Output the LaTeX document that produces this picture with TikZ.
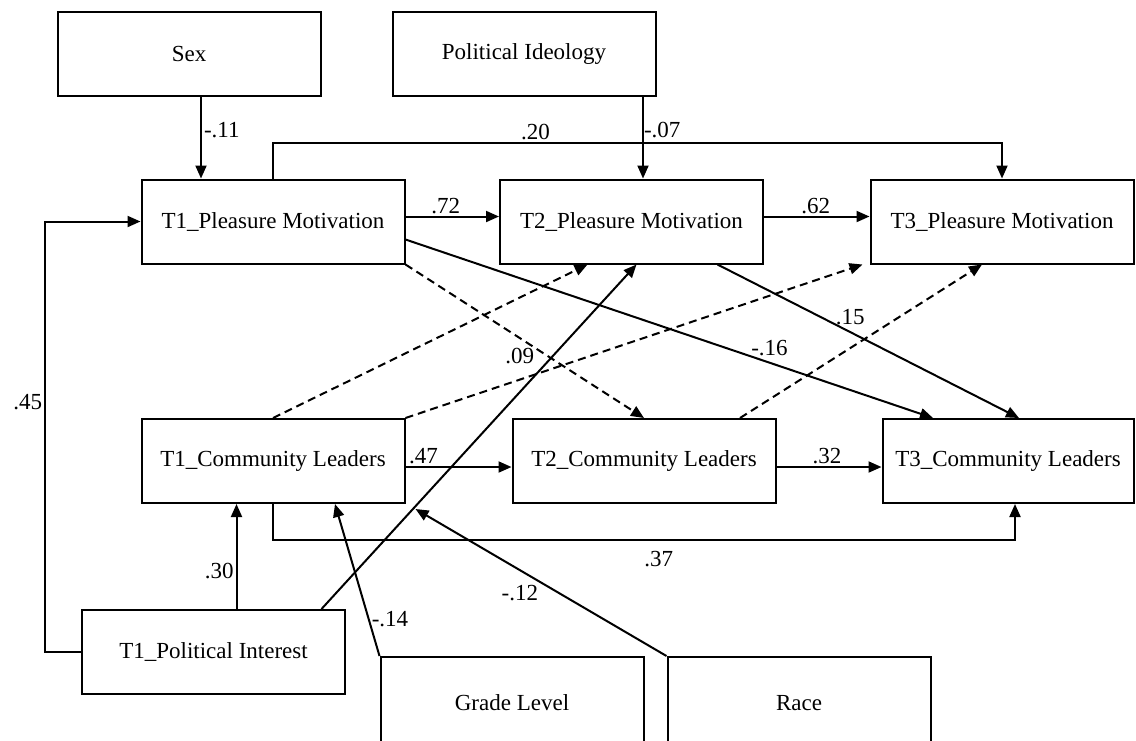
\documentclass[tikz,border=0pt]{standalone}
\usepackage{fontspec}
\setmainfont{Liberation Serif}
\usetikzlibrary{arrows.meta}

\begin{document}
\begin{tikzpicture}[x=1pt,y=-1pt,line join=miter,>={Triangle[length=13pt,width=11pt]},
    box/.style={draw,line width=2pt,minimum width=263pt,minimum height=84pt,inner sep=0pt,font=\fontsize{23}{27}\selectfont},
    link/.style={line width=2pt,->},
    dlink/.style={link,dash pattern=on 8pt off 5pt},
    lbl/.style={font=\fontsize{23}{27}\selectfont,inner sep=2pt}]
  \path[use as bounding box] (0,0) rectangle (1136,740);
  \clip (0,0) rectangle (1136,740);
  \node[box] (sex) at (189,54) {Sex};
  \node[box] (ideo) at (524,54) {Political Ideology};
  \node[box] (pm1) at (273,221.5) {T1\_Pleasure Motivation};
  \node[box] (pm2) at (631.5,221.5) {T2\_Pleasure Motivation};
  \node[box] (pm3) at (1002,221.5) {T3\_Pleasure Motivation};
  \node[box] (cl1) at (273,461) {T1\_Community Leaders};
  \node[box] (cl2) at (644,461) {T2\_Community Leaders};
  \node[box,minimum width=251pt] (cl3) at (1008,461) {T3\_Community Leaders};
  \node[box] (pi) at (213.5,652) {T1\_Political Interest};
  \node[box,minimum height=92pt] (grade) at (512,703) {Grade Level};
  \node[box,minimum height=92pt] (race) at (799,703) {Race};
  % covariates on the top
  \draw[link] ([xshift=12pt]sex.south) -- ([xshift=12pt]sex.south |- pm1.north) node[lbl,pos=.4,right] (w11) {-.11};
  \draw[link] ([xshift=119pt]ideo.south) -- ([xshift=119pt]ideo.south |- pm2.north) node[lbl,pos=.4,right,inner sep=0pt] (w07) {-.07};
  \draw[link] (pm1.north) -- ++(0,-36) -| node[lbl,pos=.18,above] (w20) {.20} (pm3.north);
  % stability paths
  \draw[link] ([yshift=5pt]pm1.east) -- ([yshift=5pt]pm2.west) node[lbl,pos=.43,above] (w72) {.72};
  \draw[link] ([yshift=5pt]pm2.east) -- ([yshift=5pt]pm3.west) node[lbl,pos=.49,above] (w62) {.62};
  \draw[link] ([yshift=-6pt]cl1.east) -- ([yshift=-6pt]cl2.west) node[lbl,pos=.17,above] (w47) {.47};
  \draw[link] ([yshift=-6pt]cl2.east) -- ([yshift=-6pt]cl3.west) node[lbl,pos=.48,above] (w32) {.32};
  \draw[link] (cl1.south) -- ++(0,36) -| node[lbl,pos=.26,below=8pt] (w37) {.37} ([xshift=7pt]cl3.south);
  % cross-lagged paths
  \draw[link] ([yshift=-18pt]pm1.east) -- ([xshift=-75pt]cl3.north) node[lbl,pos=.69,above=4pt] (w16) {-.16};
  \draw[link] ([xshift=86pt]pm2.south) -- ([xshift=11pt]cl3.north) node[lbl,pos=.44,above=4pt] (w15) {.15};
  \draw[dlink] (pm1.south east) -- (cl2.north);
  \draw[dlink] (cl1.north) -- ([xshift=-44pt]pm2.south);
  \draw[dlink] (cl1.north east) -- ([xshift=-7pt]pm3.south west);
  \draw[dlink] ([xshift=96pt]cl2.north) -- ([xshift=-20pt]pm3.south);
  % political interest
  \draw[link] ([xshift=108pt]pi.north) -- ([xshift=5pt]pm2.south) node[lbl,pos=.735,left=16pt] (w09) {.09};
  \draw[link] ([xshift=23pt]pi.north) -- ([xshift=23pt]pi.north |- cl1.south) node[lbl,pos=.36,left] (w30) {.30};
  \draw[link] (pi.west) -- ++(-36,0) |- node[lbl,pos=.29,left] (w45) {.45} (pm1.west);
  % covariates on the bottom
  \draw[link] (grade.north west) -- ([xshift=62pt]cl1.south) node[lbl,pos=.24,right] (w14) {-.14};
  \draw[link] (race.north west) -- ([xshift=10pt,yshift=-5pt]cl1.south east) node[lbl,pos=.5,below left] (w12) {-.12};
\end{tikzpicture}
\end{document}
